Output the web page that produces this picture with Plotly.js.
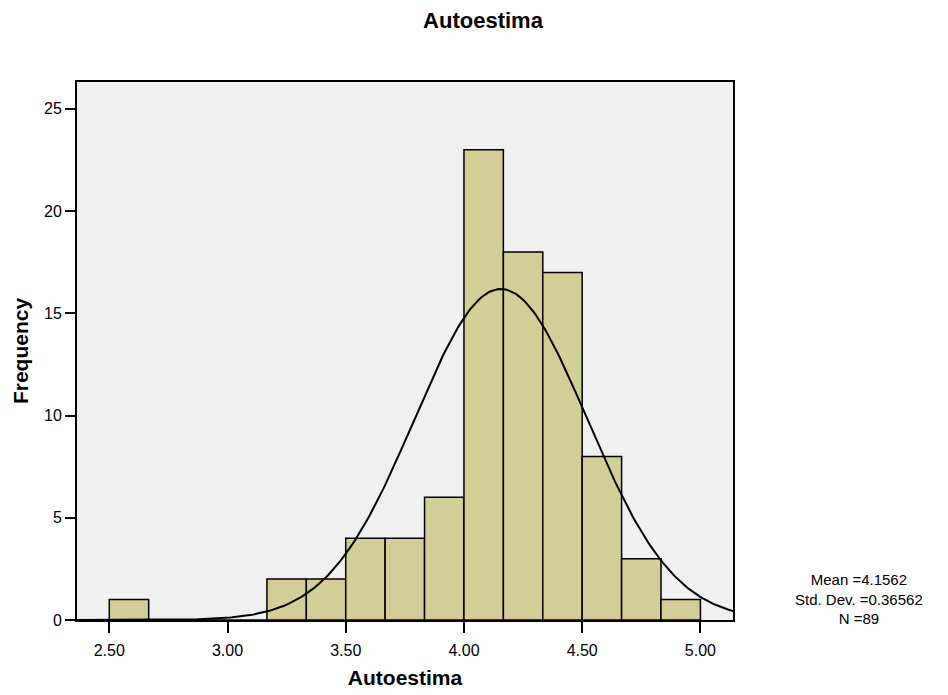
<!DOCTYPE html>
<html>
<head>
<meta charset="utf-8">
<script src="https://cdn.plot.ly/plotly-3.0.1.min.js"></script>
<style>html,body{margin:0;padding:0;background:#fff;}#chart{width:948px;height:695px;}</style>
</head>
<body>
<div id="chart"></div>
<script>
// Histogram bins (start of each bin) and frequencies
const binWidth = 1 / 6;
const binStarts = [2.5, 2.6667, 2.8333, 3.0, 3.1667, 3.3333, 3.5, 3.6667, 3.8333, 4.0, 4.1667, 4.3333, 4.5, 4.6667, 4.8333];
const counts    = [1,   0,      0,      0,   2,      2,      4,   4,      6,      23,  18,     17,     8,   3,      1];
// Summary statistics shown on the chart
const meanVal = 4.1562;
const sdVal = 0.36562;
const nVal = 89;
const statLines = ['Mean =4.1562', 'Std. Dev. =0.36562', 'N =89'];
const xTicks = [2.5, 3.0, 3.5, 4.0, 4.5, 5.0];
const yTicks = [0, 5, 10, 15, 20, 25];

const xRange = [2.3635, 5.1378];

const barX = binStarts.map(s => s + binWidth / 2);

// Fitted normal curve defined by the displayed mean, SD and N
const curveX = [];
const curveY = [];
const steps = 300;
for (let i = 0; i <= steps; i++) {
  const x = xRange[0] + (xRange[1] - xRange[0]) * i / steps;
  const z = (x - meanVal) / sdVal;
  curveX.push(x);
  curveY.push(nVal * binWidth / (sdVal * Math.sqrt(2 * Math.PI)) * Math.exp(-0.5 * z * z));
}

const font = "'Liberation Sans', Arial, sans-serif";

const data = [
  {
    type: 'bar', x: barX, y: counts, width: binWidth,
    marker: {color: '#d3ce97', line: {color: '#000', width: 1.5}},
    hoverinfo: 'x+y'
  },
  {
    type: 'scatter', mode: 'lines', x: curveX, y: curveY,
    line: {color: '#000', width: 2}, hoverinfo: 'skip'
  }
];

const annotations = [{
  xref: 'paper', yref: 'paper', x: (859 - 77) / 656, y: (620 - 599) / 538,
  xanchor: 'center', yanchor: 'middle', align: 'center', showarrow: false,
  text: statLines.join('<br>'), font: {family: font, size: 15, color: '#000'}
}];

const layout = {
  width: 948, height: 695,
  margin: {l: 77, r: 215, t: 82, b: 75},
  paper_bgcolor: '#fff', plot_bgcolor: '#f0f0f0',
  showlegend: false,
  bargap: 0,
  font: {family: font, color: '#000', size: 16},
  title: {text: '<b>Autoestima</b>', x: 483 / 948, xanchor: 'center', y: 1 - 20 / 695, yanchor: 'middle',
          font: {family: font, size: 22, color: '#000'}},
  xaxis: {
    range: xRange, tickvals: xTicks, ticktext: xTicks.map(v => v.toFixed(2)),
    ticks: 'outside', ticklen: 11, tickwidth: 2, tickcolor: '#000',
    ticklabelstandoff: 4,
    showline: true, linecolor: '#000', linewidth: 2, mirror: true,
    showgrid: false, zeroline: false,
    tickfont: {family: font, size: 16, color: '#000'},
    title: {text: '<b>Autoestima</b>', font: {family: font, size: 21, color: '#000'}, standoff: 12}
  },
  yaxis: {
    range: [0, 26.31], tickvals: yTicks,
    ticks: 'outside', ticklen: 10, tickwidth: 2, tickcolor: '#000',
    showline: true, linecolor: '#000', linewidth: 2, mirror: true,
    showgrid: false, zeroline: false,
    tickfont: {family: font, size: 16, color: '#000'},
    title: {text: '<b>Frequency</b>', font: {family: font, size: 21, color: '#000'}, standoff: 10}
  },
  annotations: annotations
};

Plotly.newPlot('chart', data, layout, {displayModeBar: false, staticPlot: true});
</script>
</body>
</html>
